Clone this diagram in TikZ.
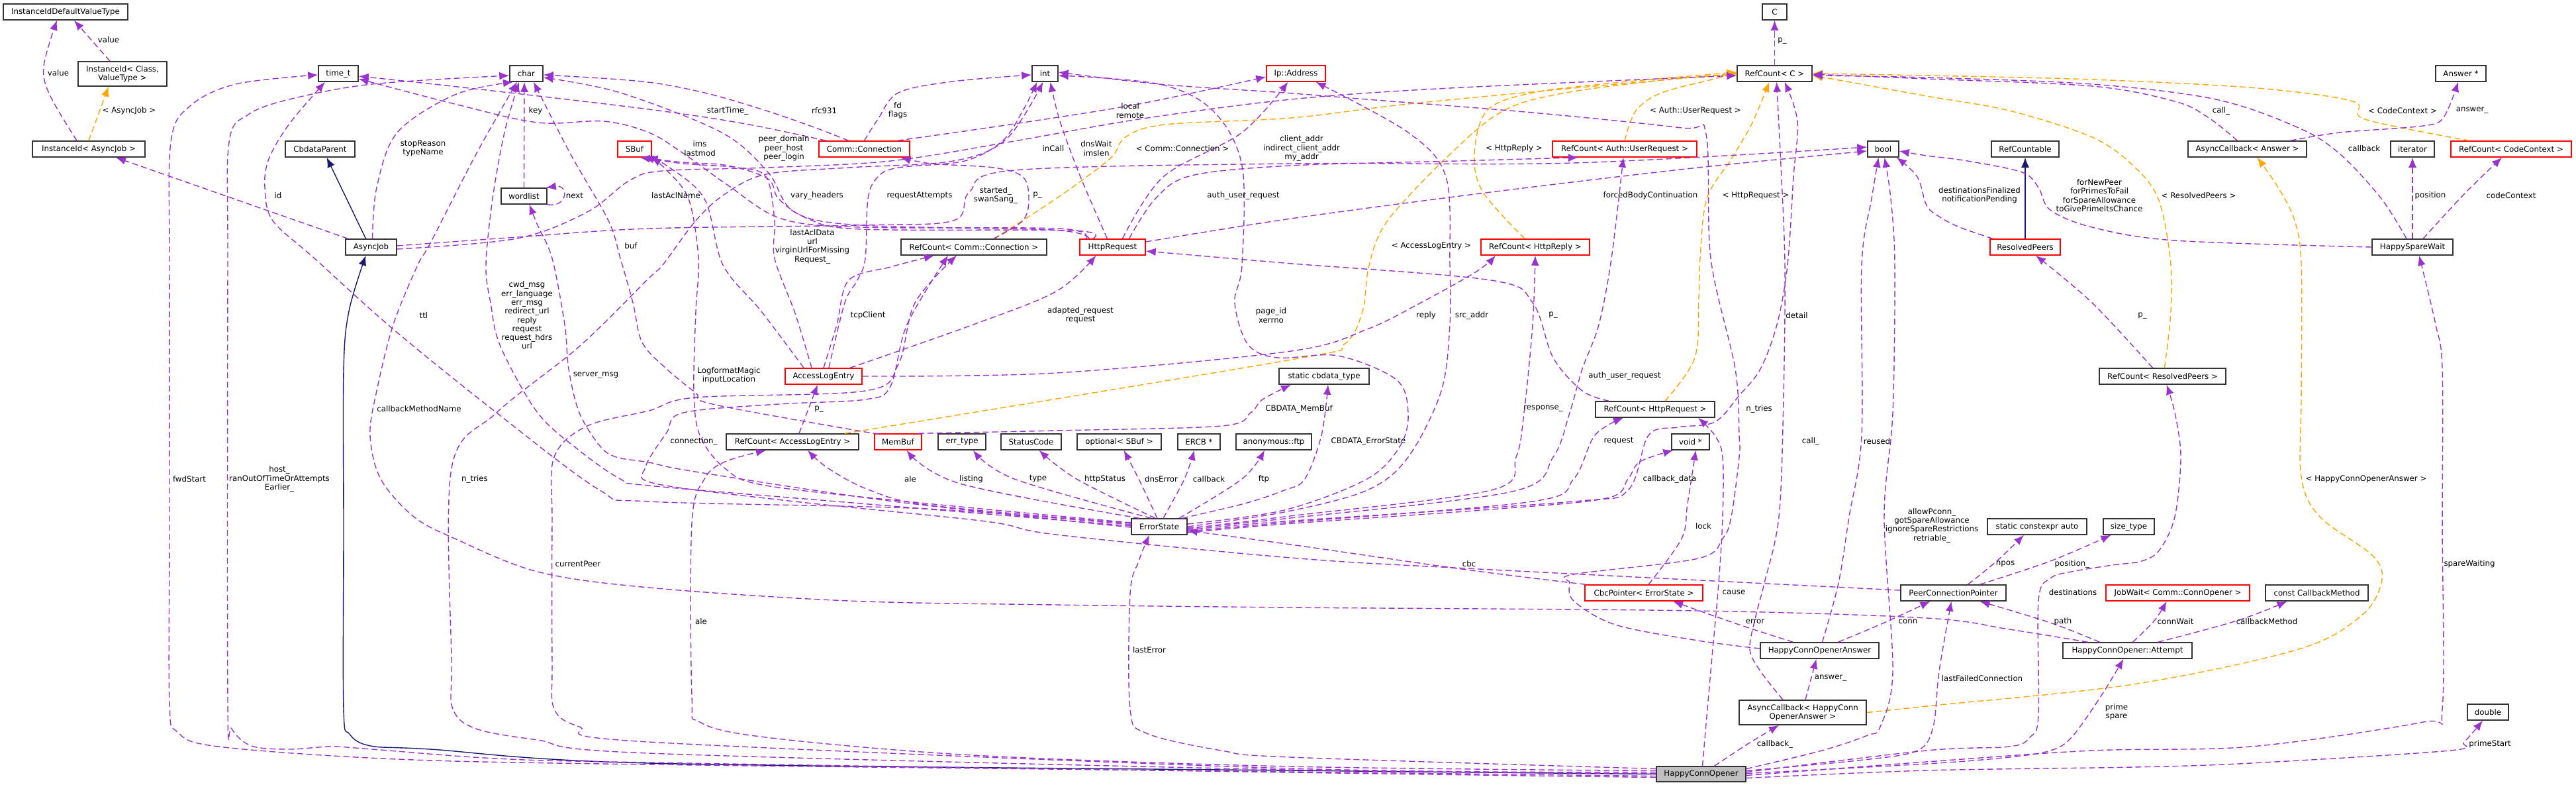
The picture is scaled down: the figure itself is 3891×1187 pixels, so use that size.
\documentclass[tikz,border=0pt]{standalone}
\usepackage{fontspec}
\newfontfamily\dvs{DejaVu Sans}
\usetikzlibrary{arrows.meta}
\definecolor{pcol}{RGB}{154,50,205}
\definecolor{ocol}{RGB}{255,165,0}
\definecolor{icol}{RGB}{25,25,112}
\newcommand\lblf{\dvs\fontsize{11.8}{13.3}\selectfont}
\newcommand\pedg[1]{\draw[pe] plot[smooth,tension=0.55] coordinates {#1};}
\newcommand\oedg[1]{\draw[oe] plot[smooth,tension=0.55] coordinates {#1};}
\tikzset{
  box/.style={draw=black!80, line width=1.5pt, fill=white, minimum height=24pt, inner sep=0pt, font=\lblf},
  rbox/.style={box, draw=red},
  pe/.style={draw=pcol, line width=1.4pt, dash pattern=on 9pt off 5pt, -{Latex[length=15pt,width=12pt]}},
  oe/.style={pe, draw=ocol},
  ie/.style={draw=icol, line width=1.4pt, -{Latex[length=15pt,width=12pt]}},
  lab/.style={font=\lblf, align=center, inner sep=1pt}
}
\begin{document}
\begin{tikzpicture}[x=1pt,y=-1pt]
\useasboundingbox (0,0) rectangle (3891,1187);
\fill[white] (0,0) rectangle (3891,1187);

% ---------------- nodes ----------------
\node[box,minimum width=188pt] (IIDVT) at (99,18) {InstanceIdDefaultValueType};
\node[box,minimum width=134pt,minimum height=37pt,align=center] (IIDCV) at (185,111.5) {InstanceId< Class,\\ValueType >};
\node[box,minimum width=170pt] (IIDAJ) at (134,225) {InstanceId< AsyncJob >};
\node[box,minimum width=60pt] (timet) at (511,111) {time\_t};
\node[box,minimum width=50pt] (charn) at (795,111) {char};
\node[box,minimum width=105pt] (CbdataParent) at (483.5,225) {CbdataParent};
\node[box,minimum width=77pt] (AsyncJob) at (560.5,373) {AsyncJob};
\node[box,minimum width=69pt] (wordlist) at (791.5,296) {wordlist};
\node[rbox,minimum width=51pt] (SBuf) at (958.5,225) {SBuf};
\node[box,minimum width=39pt] (intn) at (1578.5,111) {int};
\node[rbox,minimum width=89pt] (IpAddr) at (1957.5,111) {Ip::Address};
\node[rbox,minimum width=137pt] (CommConn) at (1305.5,225) {Comm::Connection};
\node[box,minimum width=220pt] (RCcomm) at (1471,373) {RefCount< Comm::Connection >};
\node[rbox,minimum width=99pt] (HttpReq) at (1680.5,373) {HttpRequest};
\node[box,minimum width=37pt] (Cn) at (2680.5,18) {C};
\node[box,minimum width=113pt] (RCC) at (2680.5,111) {RefCount< C >};
\node[rbox,minimum width=218pt] (RCauth) at (2454,225) {RefCount< Auth::UserRequest >};
\node[box,minimum width=47pt] (booln) at (2844.5,225) {bool};
\node[rbox,minimum width=164pt] (RCreply) at (2319,373) {RefCount< HttpReply >};
\node[box,minimum width=76pt] (Answer) at (3717,111) {Answer *};
\node[box,minimum width=102pt] (RefCountable) at (3059,225) {RefCountable};
\node[box,minimum width=179pt] (ACanswer) at (3394.5,225) {AsyncCallback< Answer >};
\node[box,minimum width=66pt] (iterator) at (3644,225) {iterator};
\node[rbox,minimum width=182pt] (RCcode) at (3793,225) {RefCount< CodeContext >};
\node[rbox,minimum width=106pt] (ResolvedPeers) at (3059,373) {ResolvedPeers};
\node[box,minimum width=122pt] (HSW) at (3644,373) {HappySpareWait};
\node[rbox,minimum width=116pt] (ALE) at (1244,568) {AccessLogEntry};
\node[box,minimum width=200pt] (RCale) at (1197,667) {RefCount< AccessLogEntry >};
\node[rbox,minimum width=71pt] (MemBuf) at (1356.5,667) {MemBuf};
\node[box,minimum width=72pt] (errtype) at (1453,667) {err\_type};
\node[box,minimum width=91pt] (StatusCode) at (1557.5,667) {StatusCode};
\node[box,minimum width=127pt] (optSBuf) at (1690.5,667) {optional< SBuf >};
\node[box,minimum width=64pt] (ERCB) at (1811,667) {ERCB *};
\node[box,minimum width=114pt] (ftpn) at (1924,667) {anonymous::ftp};
\node[box,minimum width=136pt] (cbdata) at (2000,568) {static cbdata\_type};
\node[box,minimum width=180pt] (RChttpreq) at (2500,618) {RefCount< HttpRequest >};
\node[box,minimum width=57pt] (voidp) at (2553.5,667) {void *};
\node[box,minimum width=191pt] (RCpeers) at (3266.5,568) {RefCount< ResolvedPeers >};
\node[box,minimum width=84pt] (ErrorState) at (1751,795) {ErrorState};
\node[box,minimum width=150pt] (scauto) at (3077,795) {static constexpr auto};
\node[box,minimum width=77pt] (sizetype) at (3215.5,795) {size\_type};
\node[rbox,minimum width=178pt] (CbcPtr) at (2483,895) {CbcPointer< ErrorState >};
\node[box,minimum width=159pt] (PCP) at (2950.5,895) {PeerConnectionPointer};
\node[rbox,minimum width=217pt] (JobWait) at (3289.5,895) {JobWait< Comm::ConnOpener >};
\node[box,minimum width=155pt] (constCM) at (3499.5,895) {const CallbackMethod};
\node[box,minimum width=179pt] (HCOA) at (2748.5,982) {HappyConnOpenerAnswer};
\node[box,minimum width=195pt] (Attempt) at (3213.5,982) {HappyConnOpener::Attempt};
\node[box,minimum width=192pt,minimum height=37pt,align=center] (ACHCOA) at (2723,1075.5) {AsyncCallback< HappyConn\\OpenerAnswer >};
\node[box,minimum width=62pt] (doublen) at (3758,1075) {double};
\node[box,fill=black!25,minimum width=135pt,minimum height=23pt] (HCO) at (2569.5,1168.5) {HappyConnOpener};

% ---------------- inheritance ----------------
\draw[ie] ([xshift=-8pt]AsyncJob.north) -- ([xshift=10pt]CbdataParent.south);
\draw[ie] plot[smooth,tension=0.55] coordinates {(HCO.west) (1950,1163) (980,1152) (650,1131) (560,1126) (528,1108) (519,1070) (519,800) (519,560) (527,470) ([xshift=-8pt]AsyncJob.south)};
\draw[ie] (ResolvedPeers.north) -- (RefCountable.south);

% ---------------- template instances ----------------
\oedg{(IIDAJ.north) ([xshift=-21pt]IIDCV.south)}
\oedg{([xshift=30pt]RCcomm.north) (1595,300) (1676,240) (1700,207) (1760,188) (1950,178) (2127,157) (2377,133) (RCC.west)}
\oedg{(RCauth.north) (2471,167) (2510,140) (2590,119) ([yshift=1pt]RCC.west)}
\oedg{([xshift=-16pt]RCreply.north) (2240,290) (2227,233) (2246,167) (2315,140) (2450,124) ([yshift=2pt]RCC.west)}
\oedg{([xshift=79pt]RCale.north) (1950,543) (2030,520) (2058,470) (2068,400) (2096,333) (2190,233) (2271,167) (2365,140) (2520,120) ([yshift=-1pt]RCC.west)}
\oedg{([xshift=15pt]RChttpreq.north) (2560,540) (2566,450) (2568,390) (2578,300) (2615,240) (2646,187) ([xshift=-8pt]RCC.south)}
\oedg{([xshift=3pt]RCpeers.north) (3279,470) (3278,390) (3260,300) (3222,250) (3160,207) (3035,167) (2910,145) (2800,125) ([yshift=-3pt]RCC.east)}
\oedg{([xshift=-63pt]RCcode.north) (3572,180) (3554,153) (3410,133) (3160,120) (2910,114) (RCC.east)}
\oedg{(ACHCOA.east) (2920,1065) (3222,1033) (3472,980) (3566,930) (3597,880) (3585,840) (3504,780) (3476,720) (3476,600) (3476,400) (3466,333) (3441,283) ([xshift=15pt]ACanswer.south)}

% ---------------- usage ----------------
\pedg{([xshift=-19pt]IIDCV.north) ([xshift=13pt]IIDVT.south)}
\pedg{([xshift=-18pt]IIDAJ.north) (75,143) (66,100) ([xshift=-13pt]IIDVT.south)}
\pedg{([xshift=-35pt]AsyncJob.north) ([xshift=41pt]IIDAJ.south)}
\pedg{([yshift=-3pt]HCO.west) (1950,1165) (980,1154) (600,1146) (330,1127) (268,1105) (256,1060) (256,800) (256,400) (258,215) (287,160) (356,127) ([yshift=-2pt]timet.west)}
\pedg{([yshift=-5pt]HCO.west) (1950,1166) (980,1151) (750,1145) (562,1131) (500,1127) (437,1131) (380,1126) (350,1100) (344,1060) (344,400) (346,215) (375,173) (437,150) (562,127) ([yshift=-3pt]charn.west)}
\pedg{([xshift=2pt]AsyncJob.north) (569,283) (600,200) (687,143) ([xshift=-20pt]charn.south)}
\pedg{([yshift=3pt]ErrorState.west) (1400,768) (980,757) (906,740) (750,623) (594,497) (475,390) (412,333) (400,283) (406,240) (437,187) ([xshift=-20pt]timet.south)}
\pedg{([xshift=-60pt]Attempt.north) (3035,950) (2910,933) (2565,922) (1950,917) (1595,913) (1282,907) (980,887) (812,863) (687,813) (625,780) (575,723) (559,657) (569,590) (594,490) (631,400) (650,367) (719,233) ([xshift=-14pt]charn.south)}
\pedg{(wordlist.north) ([xshift=-3pt]charn.south)}
\draw[pe] (wordlist.south east) .. controls (858,314) and (860,278) .. ([xshift=-2pt]wordlist.north east);
\pedg{([xshift=-30pt]MemBuf.north) (1295,650) (1076,610) (1051,593) (1007,557) (970,517) (956,457) (937,390) (919,333) (862,233) ([xshift=11pt]charn.south)}
\pedg{([yshift=1pt]ErrorState.west) (1300,760) (980,733) (937,723) (875,680) (812,623) (756,523) (741,457) (734,400) (744,300) (762,200) ([xshift=-11pt]charn.south)}
\pedg{([yshift=-1pt]ErrorState.west) (1350,757) (1050,712) (980,698) (931,690) (906,673) (875,623) (859,557) (853,490) (834,390) (812,340) ([xshift=8pt]wordlist.south)}
\pedg{([yshift=6pt]ErrorState.west) (1400,760) (1157,733) (1095,707) (1057,657) (1048,590) (1051,470) (1055,390) (1040,300) (1005,255) ([xshift=25pt]SBuf.south)}
\pedg{([xshift=-30pt]ALE.north) (1150,470) (1092,400) (1064,300) (1007,250) ([xshift=20pt]SBuf.south)}
\pedg{([xshift=-18pt]ALE.north) (1201,473) (1170,390) (1170,333) (1157,267) (1114,253) (1032,247) ([xshift=14pt]SBuf.south)}
\pedg{(ALE.north) (1264,490) (1282,423) (1345,403) ([xshift=-60pt]RCcomm.south)}
\pedg{([xshift=8pt]ALE.north) (1276,457) (1295,423) (1307,390) (1311,300) (1326,267) (1357,253) (1457,243) (1514,213) (1545,167) ([xshift=-12pt]intn.south)}
\pedg{([xshift=40pt]ALE.north) (1470,490) (1595,440) ([xshift=-25pt]HttpReq.south)}
\pedg{(ALE.east) (1595,563) (1950,530) (2065,497) (2146,457) (2230,410) ([xshift=-60pt]RCreply.south)}
\pedg{([xshift=10pt]RCale.north) ([xshift=-9pt]ALE.south)}
\pedg{([xshift=30pt]RCcomm.north) (1545,333) (1554,300) (1545,267) (1501,253) (1407,247) ([xshift=55pt]CommConn.south)}
\pedg{([xshift=-58pt]CommConn.north) (1126,187) (980,165) (700,132) ([yshift=-4pt]timet.east)}
\pedg{([xshift=-24pt]CommConn.north) (1232,193) (1157,167) (1064,140) (970,123) ([yshift=-2pt]charn.east)}
\pedg{(CommConn.north) (1326,180) (1357,140) (1439,123) ([yshift=-2pt]intn.west)}
\pedg{([xshift=50pt]CommConn.north) (1532,187) (1720,157) ([yshift=-5pt]IpAddr.west)}
\pedg{([xshift=-40pt]HttpReq.north) (1600,345) (1300,343) (1180,330) (1100,280) (1030,230) (980,200) (912,183) (812,185) (687,157) ([yshift=-8pt]timet.east)}
\pedg{([xshift=-35pt]HttpReq.north) (1590,347) (1300,340) (1200,320) (1160,260) (1090,200) (937,140) ([yshift=-6pt]charn.east)}
\pedg{([xshift=-30pt]HttpReq.north) (1620,348) (1300,346) (1220,330) (1176,300) (1160,270) (1100,250) (1030,245) ([xshift=8pt]SBuf.south)}
\pedg{([xshift=-8pt]HttpReq.north) (1632,267) (1601,183) ([xshift=8pt]intn.south)}
\pedg{([xshift=15pt]HttpReq.north) (1757,267) (1876,200) ([xshift=-12pt]IpAddr.south)}
\pedg{([xshift=25pt]HttpReq.north) (1745,300) (1800,265) (1950,250) (2200,243) ([xshift=-70pt]RCauth.south)}
\pedg{([yshift=8pt]HttpReq.east) (1950,330) (2252,290) (2565,253) ([yshift=-3pt]booln.west)}
\pedg{([xshift=-70pt]RChttpreq.north) (2390,590) (2346,540) (2315,457) (2252,423) (1940,397) ([yshift=-6pt]HttpReq.east)}
\pedg{([yshift=2pt]AsyncJob.east) (781,358) (980,345) (1300,340) (1440,333) (1464,290) (1532,257) (1950,247) (2377,246) ([yshift=3pt]booln.west)}
\pedg{([yshift=-3pt]AsyncJob.east) (781,360) (887,320) (950,273) (1000,258) (1157,253) (1345,243) (1532,213) (1720,180) (1950,150) (2190,133) ([yshift=-3pt]RCC.west)}
\pedg{([yshift=4pt]ErrorState.east) (1940,770) (2065,723) (2115,673) (2127,623) (2109,573) (2021,537) (1930,540) (1885,520) (1865,457) (1876,400) (1876,250) (1832,167) (1751,127) ([yshift=-3pt]intn.east)}
\pedg{(ErrorState.east) (1940,773) (2065,740) (2127,690) (2177,590) (2190,490) (2190,400) (2184,267) (2127,200) ([xshift=30pt]IpAddr.south)}
\pedg{([yshift=-3pt]ErrorState.east) (1940,780) (2252,740) (2290,690) (2302,623) (2315,490) (RCreply.south)}
\pedg{([yshift=-2pt]ErrorState.east) (1940,783) (2284,742) (2346,690) (2371,623) (2390,557) (2415,490) (2434,390) ([xshift=-2pt]RCauth.south)}
\pedg{([yshift=-5pt]ErrorState.east) (1940,787) (2377,757) (2459,740) (2490,657) (2534,645) (2590,637) (2627,597) (2659,557) (2684,490) (2700,400) (2709,267) (2715,183) ([xshift=15pt]RCC.south)}
\pedg{([yshift=-7pt]ErrorState.east) (1940,789) (2315,757) (2377,723) (2409,657) ([xshift=-48pt]RChttpreq.south)}
\pedg{([yshift=-9pt]ErrorState.east) (1940,791) (2252,769) (2427,752) (2459,723) (2477,697) ([xshift=3pt]voidp.south west)}
\pedg{([xshift=35pt]ErrorState.north) (1880,760) (1940,740) (1971,723) (1996,657) ([xshift=6pt]cbdata.south)}
\pedg{([xshift=30pt]MemBuf.north) (1595,650) (1845,643) (1889,623) (1907,603) ([xshift=-50pt]cbdata.south)}
\pedg{([yshift=5pt]ErrorState.west) (1407,763) (1314,740) (1251,707) ([xshift=23pt]RCale.south)}
\pedg{([xshift=-30pt]ErrorState.north) (1450,730) ([xshift=13pt]MemBuf.south)}
\pedg{([xshift=-12pt]ErrorState.north) (1532,723) ([xshift=17pt]errtype.south)}
\pedg{([xshift=-6pt]ErrorState.north) (1626,723) ([xshift=12pt]StatusCode.south)}
\pedg{([xshift=-3pt]ErrorState.north) (1720,723) ([xshift=7pt]optSBuf.south)}
\pedg{([xshift=6pt]ErrorState.north) (1789,723) ([xshift=-7pt]ERCB.south)}
\pedg{([xshift=30pt]ErrorState.north) (1876,723) ([xshift=-14pt]ftpn.south)}
\pedg{([yshift=4pt]PCP.west) (2215,858) (1950,842) (1595,807) (1489,787) (1200,757) (990,730) (975,705) (1007,653) (1032,623) (1176,610) (1307,603) (1345,583) (1370,490) ([xshift=-39pt]RCcomm.south)}
\pedg{([yshift=3pt]HCO.west) (1950,1160) (980,1120) (875,1097) (837,1070) (834,1000) (834,790) (837,690) (887,643) (980,620) (1051,600) (1307,590) (1357,550) (1382,457) ([xshift=-26pt]RCcomm.south)}
\pedg{([yshift=5pt]HCO.west) (1950,1157) (1470,1140) (1157,1113) (1057,1090) (1045,1050) (1045,790) (1064,723) (1095,697) ([xshift=-40pt]RCale.south)}
\pedg{([yshift=8pt]HCO.west) (1950,1143) (1845,1133) (1732,1107) (1707,1070) (1707,897) (1720,847) ([xshift=-15pt]ErrorState.south)}
\pedg{([yshift=1pt]HCO.west) (1950,1162) (980,1137) (812,1117) (719,1100) (684,1070) (682,1000) (682,707) (750,623) (875,523) (980,420) (1001,400) (1051,333) (1095,293) (1157,263) (1282,253) (1440,243) (1520,210) ([xshift=-3pt]intn.south)}
\pedg{([yshift=3pt]HCOA.west) (2565,967) (2440,943) (2377,907) (2371,880) (2377,867) (2565,843) (2602,813) (2615,780) (2627,690) (2627,657) (2621,557) (2584,390) (2577,203) (2540,193) (2315,170) (2065,150) (1940,140) (1751,127) ([yshift=2pt]intn.east)}
\pedg{([xshift=2pt]HCO.north) (2584,1013) (2596,880) (2602,780) (2602,690) (2590,657) ([xshift=65pt]RChttpreq.south)}
\pedg{([xshift=-30pt]ACHCOA.north) (2659,1013) (2643,980) (2652,930) (2665,880) (2687,780) (2694,600) (2696,400) (2690,250) ([xshift=3pt]RCC.south)}
\pedg{([xshift=4pt]HCOA.north) (2777,880) (2793,780) (2812,657) (2812,400) (2827,300) ([xshift=-7pt]booln.south)}
\pedg{([yshift=8pt]HCO.east) (2752,1133) (2821,1110) (2840,1097) (2859,1013) (2846,780) (2859,623) (2862,400) (2856,300) ([xshift=2pt]booln.south)}
\pedg{([xshift=-49pt]ResolvedPeers.north) (2960,343) (2929,327) (2910,310) (2896,267) ([xshift=-4pt]booln.south east)}
\pedg{(HSW.west) (3285,363) (3160,343) (3097,317) (3079,283) (3054,260) (2972,243) (2910,235) ([yshift=-3pt]booln.east)}
\pedg{(HSW.north) (iterator.south)}
\pedg{([xshift=16pt]HSW.north) (3722,293) ([xshift=-14pt]RCcode.south)}
\pedg{([xshift=-9pt]HSW.north) (3597,300) (3535,233) (3472,193) (3347,150) (3160,127) (2910,117) ([yshift=-3pt]RCC.east)}
\pedg{([xshift=-15pt]ACanswer.north) (3335,177) (3285,153) (3160,130) (2910,119) ([yshift=-1pt]RCC.east)}
\pedg{([xshift=65pt]ACanswer.north) (3535,200) (3660,190) (3691,177) ([xshift=-4pt]Answer.south)}
\pedg{(RCC.north) (Cn.south)}
\pedg{([xshift=-15pt]RCpeers.north) (3160,457) ([xshift=16pt]ResolvedPeers.south)}
\pedg{([yshift=3pt]HCO.east) (2910,1133) (3035,1127) (3066,1113) (3079,1080) (3079,907) (3097,873) (3129,863) (3191,853) (3235,847) (3262,830) (3285,780) (3294,690) (3285,623) ([xshift=6pt]RCpeers.south)}
\pedg{([yshift=-2pt]HCO.east) (2910,1150) (3160,1133) (3400,1127) (3660,1090) (3689,1070) (3689,790) (3689,557) (3679,490) ([xshift=10pt]HSW.south)}
\pedg{([yshift=-6pt]HCO.east) (2910,1163) (3222,1158) (3400,1152) (3700,1133) (3722,1120) ([xshift=-8pt]doublen.south)}
\pedg{([yshift=1pt]HCO.east) (2910,1153) (3035,1143) (3097,1133) (3129,1113) (3172,1053) ([xshift=-6pt]Attempt.south)}
\pedg{([yshift=5pt]HCO.east) (2815,1147) (2896,1133) (2920,1097) (2929,1013) ([xshift=-3pt]PCP.south)}
\pedg{([xshift=28pt]HCOA.north) (2846,940) ([xshift=-35pt]PCP.south)}
\pedg{([xshift=-40pt]HCOA.north) (2627,943) ([xshift=44pt]CbcPtr.south)}
\pedg{([xshift=4pt]ACHCOA.north) ([xshift=-5pt]HCOA.south)}
\pedg{([xshift=20pt]HCO.north) (2640,1123) ([xshift=-36pt]ACHCOA.south)}
\pedg{([xshift=7pt]CbcPtr.north) (2540,813) (2549,760) ([xshift=8pt]voidp.south)}
\pedg{([xshift=2pt]CbcPtr.north west) (2215,860) (1950,822) ([yshift=-6pt]ErrorState.east)}
\pedg{([xshift=-42pt]Attempt.north) (3097,940) ([xshift=40pt]PCP.south)}
\pedg{([xshift=8pt]Attempt.north) (3254,937) ([xshift=-17pt]JobWait.south)}
\pedg{([xshift=46pt]Attempt.north) (3379,937) ([xshift=-45pt]constCM.south)}
\pedg{([xshift=22pt]PCP.north) (3016,847) ([xshift=-20pt]scauto.south)}
\pedg{([xshift=40pt]PCP.north) (3097,847) ([xshift=-27pt]sizetype.south)}

% ---------------- labels ----------------
\node[lab] (l1) at (164,60) {value};
\node[lab] (l2) at (88,110) {value};
\node[lab] (l3) at (195,167) {< AsyncJob >};
\node[lab] (l4) at (639,224) {stopReason\\typeName};
\node[lab] (l5) at (809,167) {key};
\node[lab] (l6) at (420,295) {id};
\node[lab] (l7) at (868,295) {next};
\node[lab] (l8) at (953,371) {buf};
\node[lab] (l9) at (1099,167) {startTime\_};
\node[lab] (l10) at (1245,167) {rfc931};
\node[lab] (l11) at (1356,167) {fd\\flags};
\node[lab] (l12) at (1707,167) {local\\remote};
\node[lab] (l13) at (1057,224) {ims\\lastmod};
\node[lab] (l14) at (1184,224) {peer\_domain\\peer\_host\\peer\_login};
\node[lab] (l15) at (1591,224) {inCall};
\node[lab] (l16) at (1656,224) {dnsWait\\imslen};
\node[lab] (l17) at (1786,224) {< Comm::Connection >};
\node[lab] (l18) at (1021,295) {lastAclName};
\node[lab] (l19) at (1234,295) {vary\_headers};
\node[lab] (l20) at (1389,295) {requestAttempts};
\node[lab] (l21) at (1504,295) {started\_\\swanSang\_};
\node[lab] (l22) at (1567,295) {p\_};
\node[lab] (l23) at (1878,295) {auth\_user\_request};
\node[lab] (l24) at (1227,372) {lastAclData\\url\\virginUrlForMissing\\Request\_};
\node[lab] (l25) at (1966,224) {client\_addr\\indirect\_client\_addr\\my\_addr};
\node[lab] (l26) at (2692,62) {p\_};
\node[lab] (l27) at (2561,167) {< Auth::UserRequest >};
\node[lab] (l28) at (2287,224) {< HttpReply >};
\node[lab] (l29) at (2493,295) {forcedBodyContinuation};
\node[lab] (l30) at (2652,295) {< HttpRequest >};
\node[lab] (l31) at (2162,371) {< AccessLogEntry >};
\node[lab] (l32) at (3355,167) {call\_};
\node[lab] (l33) at (3629,167) {< CodeContext >};
\node[lab] (l34) at (3734,167) {answer\_};
\node[lab] (l35) at (3571,224) {callback};
\node[lab] (l36) at (2990,295) {destinationsFinalized\\notificationPending};
\node[lab] (l37) at (3171,295) {forNewPeer\\forPrimesToFail\\forSpareAllowance\\toGivePrimeItsChance};
\node[lab] (l38) at (3321,295) {< ResolvedPeers >};
\node[lab] (l39) at (3671,295) {position};
\node[lab] (l40) at (3793,295) {codeContext};
\node[lab] (l41) at (640,476) {ttl};
\node[lab] (l42) at (796,476) {cwd\_msg\\err\_language\\err\_msg\\redirect\_url\\reply\\request\\request\_hdrs\\url};
\node[lab] (l43) at (900,567) {server\_msg};
\node[lab] (l44) at (633,617) {callbackMethodName};
\node[lab] (l45) at (286,723) {fwdStart};
\node[lab] (l46) at (422,723) {host\_\\ranOutOfTimeOrAttempts\\Earlier\_};
\node[lab] (l47) at (717,723) {n\_tries};
\node[lab] (l48) at (1311,476) {tcpClient};
\node[lab] (l49) at (1632,476) {adapted\_request\\request};
\node[lab] (l50) at (1920,476) {page\_id\\xerrno};
\node[lab] (l51) at (1101,567) {LogformatMagic\\inputLocation};
\node[lab] (l52) at (1237,618) {p\_};
\node[lab] (l53) at (1048,666) {connection\_};
\node[lab] (l54) at (1962,617) {CBDATA\_MemBuf};
\node[lab] (l55) at (1375,723) {ale};
\node[lab] (l56) at (1467,723) {listing};
\node[lab] (l57) at (1568,723) {type};
\node[lab] (l58) at (1669,723) {httpStatus};
\node[lab] (l59) at (1754,723) {dnsError};
\node[lab] (l60) at (1826,723) {callback};
\node[lab] (l61) at (1909,723) {ftp};
\node[lab] (l62) at (2154,476) {reply};
\node[lab] (l63) at (2223,476) {src\_addr};
\node[lab] (l64) at (2346,476) {p\_};
\node[lab] (l65) at (2714,476) {detail};
\node[lab] (l66) at (2454,567) {auth\_user\_request};
\node[lab] (l67) at (2331,617) {response\_};
\node[lab] (l68) at (2657,617) {n\_tries};
\node[lab] (l69) at (2067,666) {CBDATA\_ErrorState};
\node[lab] (l70) at (2445,666) {request};
\node[lab] (l71) at (2735,666) {call\_};
\node[lab] (l72) at (2835,666) {reused};
\node[lab] (l73) at (2522,723) {callback\_data};
\node[lab] (l74) at (2918,793) {allowPconn\_\\gotSpareAllowance\\ignoreSpareRestrictions\\retriable\_};
\node[lab] (l75) at (3236,477) {p\_};
\node[lab] (l76) at (3574,723) {< HappyConnOpenerAnswer >};
\node[lab] (l77) at (873,851) {currentPeer};
\node[lab] (l78) at (1059,938) {ale};
\node[lab] (l79) at (1736,981) {lastError};
\node[lab] (l80) at (2573,794) {lock};
\node[lab] (l81) at (2219,851) {cbc};
\node[lab] (l82) at (2619,894) {cause};
\node[lab] (l83) at (2651,938) {error};
\node[lab] (l84) at (2882,938) {conn};
\node[lab] (l85) at (2765,1024) {answer\_};
\node[lab] (l86) at (2681,1123) {callback\_};
\node[lab] (l87) at (3029,851) {npos};
\node[lab] (l88) at (3130,851) {position\_};
\node[lab] (l89) at (3730,851) {spareWaiting};
\node[lab] (l90) at (3131,894) {destinations};
\node[lab] (l91) at (3116,938) {path};
\node[lab] (l92) at (3286,938) {connWait};
\node[lab] (l93) at (3424,938) {callbackMethod};
\node[lab] (l94) at (2994,1024) {lastFailedConnection};
\node[lab] (l95) at (3197,1075) {prime\\spare};
\node[lab] (l96) at (3761,1123) {primeStart};
\end{tikzpicture}
\end{document}
